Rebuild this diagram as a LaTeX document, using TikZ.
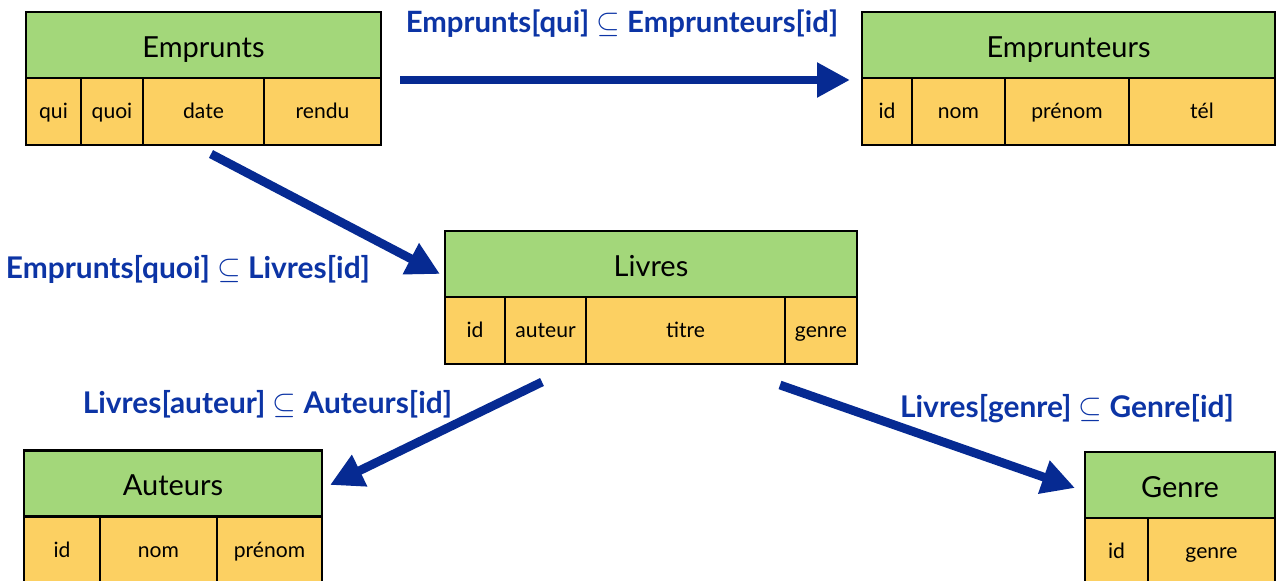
\documentclass[tikz,border=0pt]{standalone}
\usepackage{fontspec}
\setmainfont{Lato}
\usetikzlibrary{arrows.meta}
\definecolor{headgreen}{RGB}{163,215,122}
\definecolor{cellorange}{RGB}{252,208,98}
\definecolor{linkblue}{RGB}{6,42,146}
\definecolor{labelblue}{RGB}{12,52,165}
\tikzset{
  tabhead/.style={draw,rectangle,fill=headgreen,line width=1.2pt,minimum height=1.32cm,inner sep=0pt,text height=14pt,text depth=0pt,font=\fontsize{16.5}{19}\selectfont},
  tabcell/.style={draw,rectangle,fill=cellorange,line width=1.2pt,minimum height=1.34cm,inner sep=0pt,text height=11pt,text depth=2.5pt,font=\fontsize{12}{14}\selectfont},
  link/.style={-{Triangle[length=0.66cm,width=0.66cm]},line width=5pt,draw=linkblue},
  linklabel/.style={anchor=base,text=labelblue,font=\bfseries\fontsize{17}{20}\selectfont}
}
\begin{document}
\begin{tikzpicture}[x=0.02cm,y=-0.02cm]
\useasboundingbox (0,0) rectangle (1276,581);
% Emprunts
\node[tabhead,minimum width=7.1cm] (emp) at (203.5,45) {Emprunts};
\node[tabcell,minimum width=1.1cm] (emp-qui) at (53.5,111.5) {qui};
\node[tabcell,minimum width=1.24cm] (emp-quoi) at (112,111.5) {quoi};
\node[tabcell,minimum width=2.42cm] (emp-date) at (203.5,111.5) {date};
\node[tabcell,minimum width=2.34cm] (emp-rendu) at (322.5,111.5) {rendu};
% Emprunteurs
\node[tabhead,minimum width=8.26cm] (empr) at (1068.5,45) {Emprunteurs};
\node[tabcell,minimum width=1.0cm] (empr-id) at (887,111.5) {id};
\node[tabcell,minimum width=1.86cm] (empr-nom) at (958.5,111.5) {nom};
\node[tabcell,minimum width=2.48cm] (empr-prenom) at (1067,111.5) {prénom};
\node[tabcell,minimum width=2.92cm] (empr-tel) at (1202,111.5) {tél};
% Livres
\node[tabhead,minimum width=8.24cm] (liv) at (651,264) {Livres};
\node[tabcell,minimum width=1.2cm] (liv-id) at (475,330.5) {id};
\node[tabcell,minimum width=1.62cm] (liv-auteur) at (545.5,330.5) {auteur};
\node[tabcell,minimum width=3.98cm] (liv-titre) at (685.5,330.5) {titre};
\node[tabcell,minimum width=1.44cm] (liv-genre) at (821,330.5) {genre};
% Auteurs
\node[tabhead,minimum width=5.96cm] (aut) at (173,483.5) {Auteurs};
\node[tabcell,minimum width=1.52cm] (aut-id) at (62,550.5) {id};
\node[tabcell,minimum width=2.34cm] (aut-nom) at (158.5,550.5) {nom};
\node[tabcell,minimum width=2.1cm] (aut-prenom) at (269.5,550.5) {prénom};
% Genre
\node[tabhead,minimum width=3.8cm] (gen) at (1180,485) {Genre};
\node[tabcell,minimum width=1.26cm] (gen-id) at (1116.5,551.5) {id};
\node[tabcell,minimum width=2.54cm] (gen-genre) at (1211.5,551.5) {genre};

% links
\coordinate (l1a) at (400,80);   \coordinate (l1b) at (850,80);
\coordinate (l2a) at (211,154);  \coordinate (l2b) at (440,274);
\coordinate (l3a) at (542,382);  \coordinate (l3b) at (330,485);
\coordinate (l4a) at (780,385);  \coordinate (l4b) at (1075,488);
\draw[link] (l1a) -- (l1b);
\draw[link] (l2a) -- (l2b);
\draw[link] (l3a) -- (l3b);
\draw[link] (l4a) -- (l4b);

\node[linklabel,font=\bfseries\fontsize{16.7}{20}\selectfont] (lab1) at (622,33) {Emprunts[qui] $\subseteq$ Emprunteurs[id]};
\node[linklabel] (lab2) at (188,278) {Emprunts[quoi] $\subseteq$ Livres[id]};
\node[linklabel] (lab3) at (267.5,413) {Livres[auteur] $\subseteq$ Auteurs[id]};
\node[linklabel] (lab4) at (1067,417) {Livres[genre] $\subseteq$ Genre[id]};
\end{tikzpicture}
\end{document}
